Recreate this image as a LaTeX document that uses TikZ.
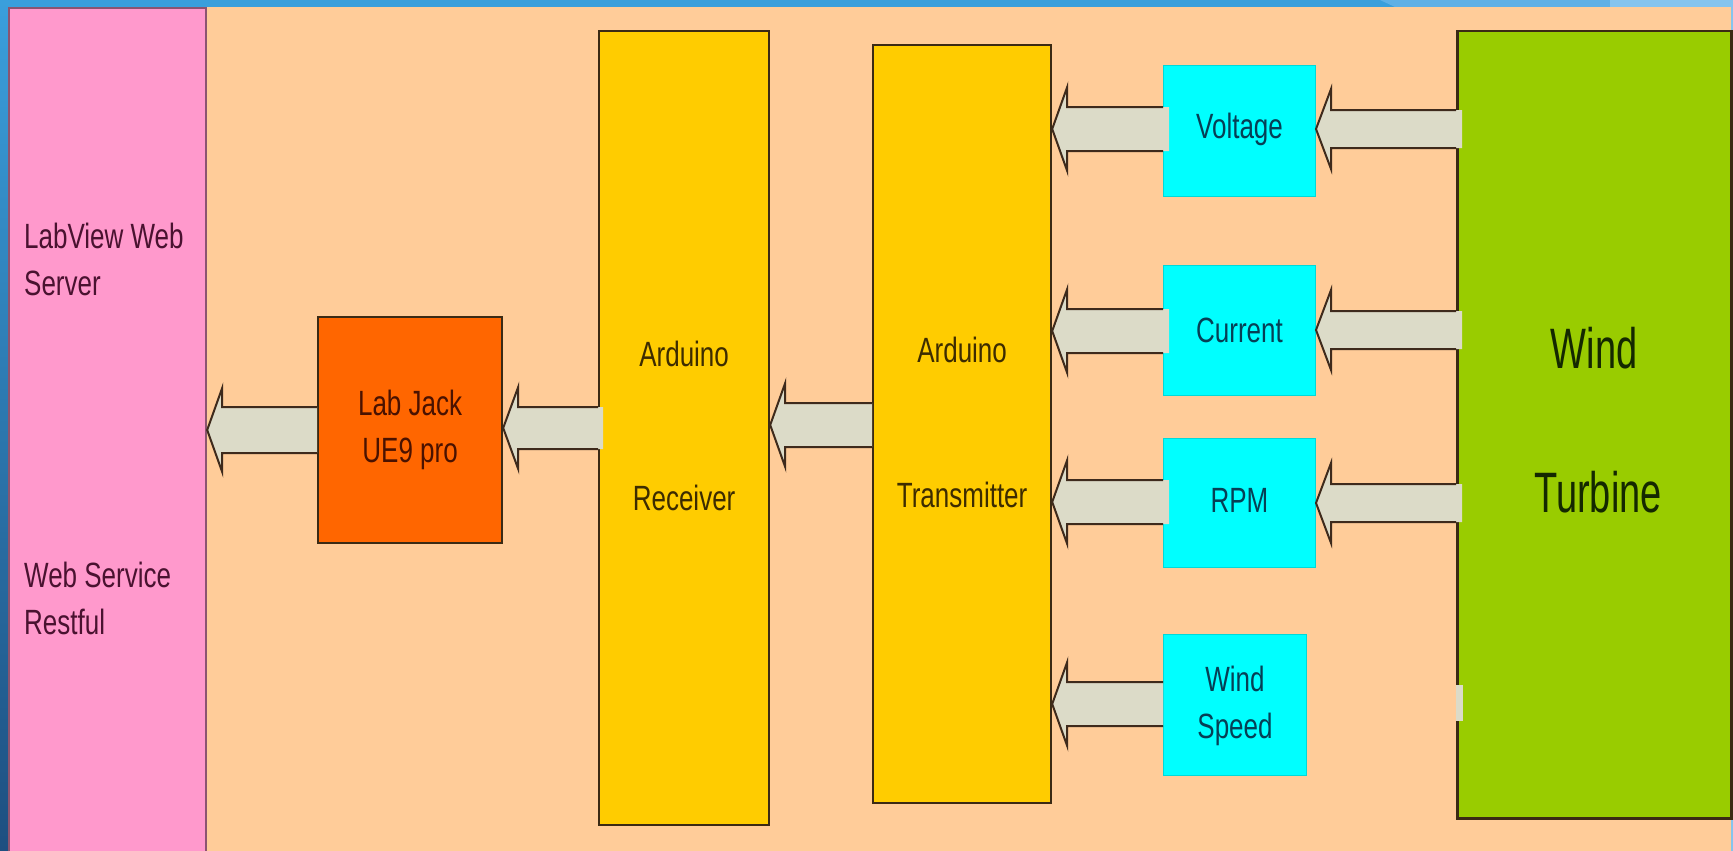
\documentclass[tikz,border=0pt]{standalone}
\usepackage{fontspec}
\setmainfont{Liberation Sans}
\usepackage{graphicx}
\definecolor{peach}{HTML}{FFCC99}
\definecolor{pinkc}{HTML}{FF99CC}
\definecolor{labc}{HTML}{FF6600}
\definecolor{ardc}{HTML}{FFCC00}
\definecolor{cyanc}{HTML}{00FFFF}
\definecolor{greenc}{HTML}{99CC00}
\definecolor{arrfillc}{HTML}{DCDBC8}
\definecolor{arrlinec}{HTML}{3E2A1C}
\definecolor{boxline}{HTML}{3B2A14}
\definecolor{blueA}{HTML}{3A9FDC}
\definecolor{blueB}{HTML}{1E4F80}
\definecolor{blueC}{HTML}{5FB0E6}
\definecolor{blueD}{HTML}{85C4EE}
\definecolor{tpink}{HTML}{4A1230}
\definecolor{tlab}{HTML}{4A1200}
\definecolor{tard}{HTML}{3D2C00}
\definecolor{tcyan}{HTML}{063F55}
\definecolor{tgreen}{HTML}{142800}
\newcommand{\vs}[2][c]{\scalebox{1}[1.35]{\begin{tabular}[t]{@{}#1@{}}#2\end{tabular}}}
\newcommand{\vsb}[1]{\scalebox{1}[1.5]{#1}}
% #1 target (tip at its east side), #2 source (tail at its west side), #3 y, #4 overshoot, #5 shaft half, #6 head half
\newcommand\blockarrow[6]{%
  \coordinate (ta) at (#1.east |- 0,#3);
  \coordinate (tb) at (#2.west |- 0,#3);
  \fill[arrfill] (ta) -- ([xshift=15pt,yshift=#6pt]ta) -- ([xshift=15pt,yshift=#5pt]ta)
     -- ([xshift=#4pt,yshift=#5pt]tb) -- ([xshift=#4pt,yshift=-#5pt]tb)
     -- ([xshift=15pt,yshift=-#5pt]ta) -- ([xshift=15pt,yshift=-#6pt]ta) -- cycle;
  \draw[arrline] ([yshift=#5pt]tb) -- ([xshift=15pt,yshift=#5pt]ta) -- ([xshift=15pt,yshift=#6pt]ta)
     -- (ta) -- ([xshift=15pt,yshift=-#6pt]ta) -- ([xshift=15pt,yshift=-#5pt]ta) -- ([yshift=-#5pt]tb);
}
\tikzset{
  box/.style={draw=boxline, line width=2.2pt, rectangle, inner sep=0pt, anchor=north west},
  cbox/.style={draw=cyanc!70!teal, line width=1pt, fill=cyanc, rectangle, inner sep=0pt, anchor=north west},
  arrfill/.style={fill=arrfillc},
  arrline/.style={draw=arrlinec, line width=2pt, line join=miter},
  txt/.style={inner sep=0pt, anchor=base, font=\fontsize{26}{35}\selectfont},
  bigtxt/.style={inner sep=0pt, anchor=base, font=\fontsize{38}{44}\selectfont, text=tgreen},
}
\begin{document}
\begin{tikzpicture}[x=1pt,y=-1pt]
\useasboundingbox (0,0) rectangle (1733,851);
% background
\fill[peach] (0,0) rectangle (1733,851);
\fill[blueA] (0,0) rectangle (1395,7);
\fill[blueC] (1380,0) -- (1610,0) -- (1620,7) -- (1395,7) -- cycle;
\fill[blueD] (1610,0) rectangle (1733,7);
\shade[top color=blueA, bottom color=blueB] (0,0) rectangle (8,851);
\fill[blueD] (1731,0) rectangle (1733,851);
% boxes
\node[box, draw=pinkc!55!black, fill=pinkc, minimum width=197pt, minimum height=848pt] (web) at (8,7) {};
\node[box, fill=labc, minimum width=184pt, minimum height=226pt] (lab) at (317,316) {};
\node[box, fill=ardc, minimum width=170pt, minimum height=794pt] (rx) at (598,30) {};
\node[box, fill=ardc, minimum width=178pt, minimum height=758pt] (tx) at (872,44) {};
\node[cbox, minimum width=152pt, minimum height=131pt] (volt) at (1163,65) {};
\node[cbox, minimum width=152pt, minimum height=130pt] (curr) at (1163,265) {};
\node[cbox, minimum width=152pt, minimum height=129pt] (rpm) at (1163,438) {};
\node[cbox, minimum width=143pt, minimum height=141pt] (ws) at (1163,634) {};
\node[box, fill=greenc, line width=2.5pt, minimum width=274pt, minimum height=787pt] (wt) at (1456,30) {};
% arrows
\blockarrow{web}{lab}{430}{0}{23}{42}
\blockarrow{lab}{rx}{428}{5}{21}{41}
\blockarrow{rx}{tx}{425}{0}{22}{42}
\blockarrow{tx}{volt}{129}{6}{22}{42}
\blockarrow{tx}{curr}{331}{6}{22}{42}
\blockarrow{tx}{rpm}{502}{6}{22}{42}
\blockarrow{tx}{ws}{704}{0}{22}{42}
\blockarrow{volt}{wt}{129}{6}{19}{40}
\blockarrow{curr}{wt}{330}{6}{19}{40}
\blockarrow{rpm}{wt}{503}{6}{19}{40}
\fill[arrfillc] ([yshift=-18pt]wt.west |- 0,703) rectangle ([xshift=7pt,yshift=18pt]wt.west |- 0,703);
% texts
\node[txt, anchor=base west, text=tpink] at (24,248) {\vs[l]{LabView Web\\Server}};
\node[txt, anchor=base west, text=tpink] at (24,587) {\vs[l]{Web Service\\Restful}};
\node[txt, text=tlab] at (lab.center |- 0,415) {\vs{Lab Jack\\UE9 pro}};
\node[txt, text=tard] at (rx.center |- 0,366) {\vs{Arduino}};
\node[txt, text=tard] at (rx.center |- 0,510) {\vs{Receiver}};
\node[txt, text=tard] at (tx.center |- 0,362) {\vs{Arduino}};
\node[txt, text=tard] at (tx.center |- 0,507) {\vs{Transmitter}};
\node[txt, text=tcyan] at (volt.center |- 0,139) {\vs{Voltage}};
\node[txt, text=tcyan] at (curr.center |- 0,342) {\vs{Current}};
\node[txt, text=tcyan] at (rpm.center |- 0,512) {\vs{RPM}};
\node[txt, text=tcyan] at (ws.center |- 0,691) {\vs{Wind\\Speed}};
\node[bigtxt] at (1594,368) {\vsb{Wind}};
\node[bigtxt] at (1598,512) {\vsb{Turbine}};
\end{tikzpicture}
\end{document}
